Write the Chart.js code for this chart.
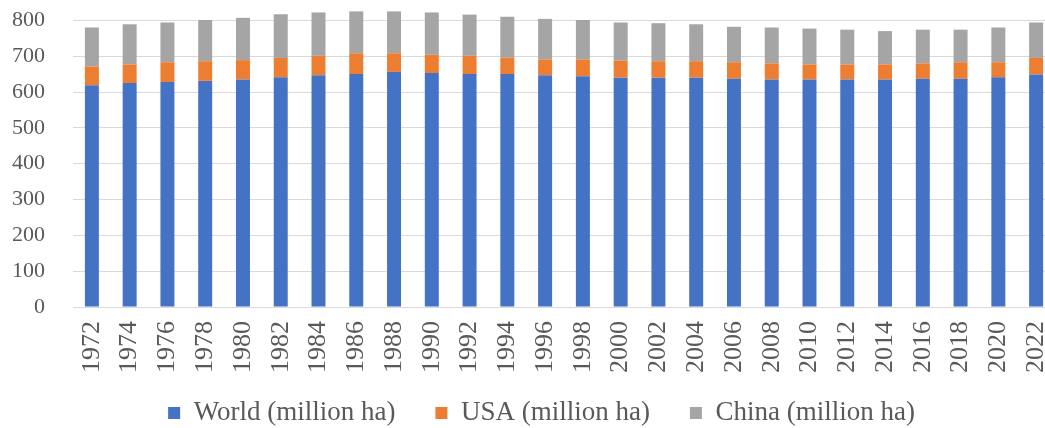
<!DOCTYPE html>
<html>
<head>
<meta charset="utf-8">
<script src="https://cdn.jsdelivr.net/npm/chart.js@4"></script>
<style>
  html, body { margin: 0; padding: 0; background: #fff; overflow: hidden; }
  /* a bit wider than the window: the last bar runs off the right edge, like the original */
  #wrap { width: 1055px; height: 428px; }
</style>
</head>
<body>
<div id="wrap"><canvas id="chart"></canvas></div>
<script>
const years = ["1972","1974","1976","1978","1980","1982","1984","1986","1988","1990","1992","1994","1996",
               "1998","2000","2002","2004","2006","2008","2010","2012","2014","2016","2018","2020","2022"];
const world = [619,625,628,631,635,641,647,650,656,653,650,650,647,644,640,640,640,637,635,635,635,635,637,637,641,649];
const usa   = [52,52,55,55,54,54,54,58,52,51,51,46,44,47,48,46,46,46,45,42,42,42,43,46,42,46];
const china = [109,112,111,115,118,122,121,117,117,118,115,114,113,110,106,106,103,99,100,100,97,93,94,91,97,99];
const yTicks = [0,100,200,300,400,500,600,700,800];

const serif = "'Liberation Serif', 'Times New Roman', serif";
const textGrey = "#595959";
const gridGrey = "#d9d9d9";

const chartCanvas = document.getElementById("chart");

// nudge the legend: up a little and slightly to the right
const legendShift = {
    id: "legendShift",
    afterLayout(chart) {
        const lg = chart.legend;
        lg.top -= 13.5;
        lg.height += 13.5;
        lg.left += 14;
        lg.right += 14;
    },
};

new Chart(chartCanvas, {
    type: "bar",
    data: {
        labels: years,
        datasets: [
            { label: "World (million ha)", data: world, backgroundColor: "#4472C4" },
            { label: "USA (million ha)", data: usa, backgroundColor: "#ED7D31" },
            { label: "China (million ha)", data: china, backgroundColor: "#A5A5A5" },
        ],
    },
    plugins: [legendShift],
    options: {
        responsive: true,
        maintainAspectRatio: false,
        animation: false,
        datasets: {
            bar: { categoryPercentage: 1, barPercentage: 0.37 },
        },
        layout: { padding: { top: 6, right: 0, bottom: 0, left: 0 } },
        plugins: {
            tooltip: { enabled: false },
            legend: {
                position: "bottom",
                maxHeight: 55,
                labels: {
                    font: { family: serif, size: 27 },
                    color: textGrey,
                    boxWidth: 12,
                    boxHeight: 12,
                    padding: 40,
                },
            },
        },
        scales: {
            x: {
                stacked: true,
                grid: { display: false, drawTicks: false },
                border: { display: true, color: gridGrey, width: 1 },
                ticks: {
                    font: { family: serif, size: 26 },
                    color: textGrey,
                    minRotation: 90,
                    maxRotation: 90,
                    padding: 14,
                    autoSkip: false,
                },
                afterFit: (scale) => {
                    scale.height = 66;
                    scale.paddingLeft = 0;
                    scale.paddingRight = 0;
                },
            },
            y: {
                stacked: true,
                min: 0,
                max: 840,
                grid: { color: gridGrey, lineWidth: 1, drawTicks: false },
                border: { display: false },
                afterBuildTicks: (scale) => { scale.ticks = yTicks.map((v) => ({ value: v })); },
                ticks: {
                    font: { family: serif, size: 22 },
                    color: textGrey,
                    padding: 28,
                },
                afterFit: (scale) => {
                    scale.width = 73;
                    scale.paddingTop = 0;
                    scale.paddingBottom = 0;
                },
            },
        },
    },
});
</script>
</body>
</html>
